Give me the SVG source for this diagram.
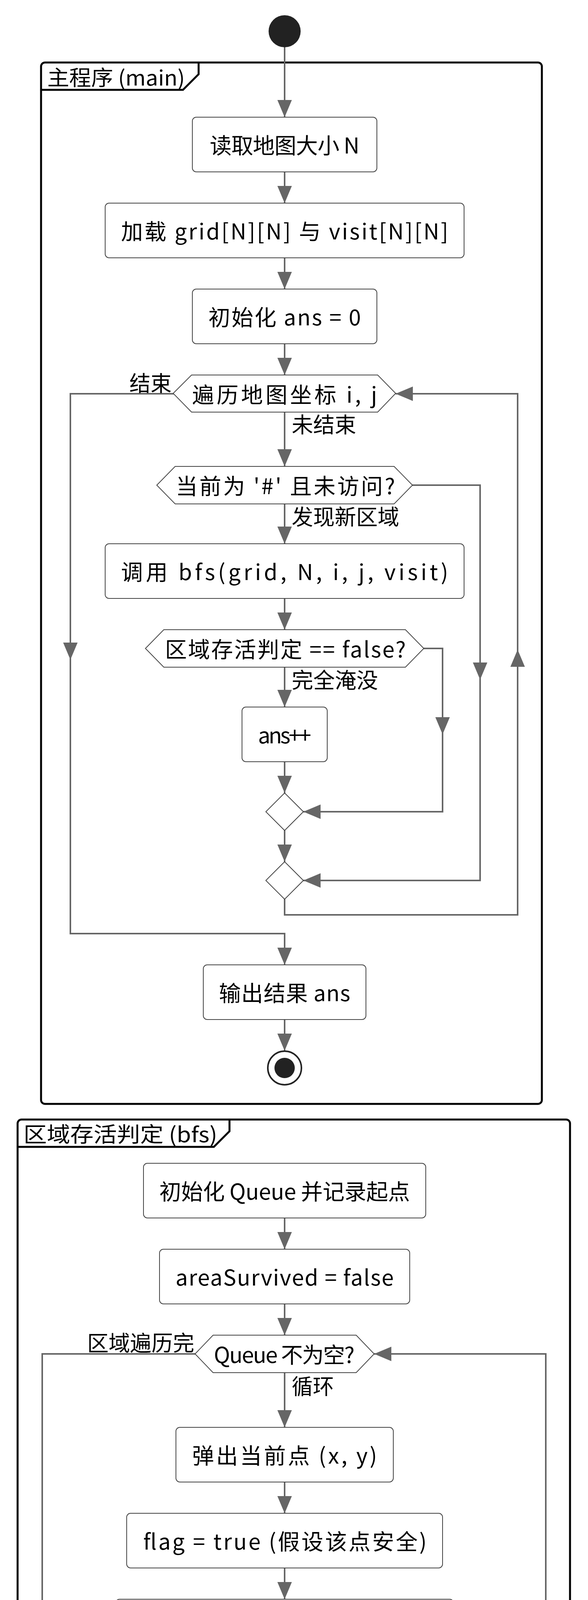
<svg xmlns="http://www.w3.org/2000/svg" width="1504" height="6040" viewBox="0 0 1504 6040">
<style>
.bg{fill:#fff}
.box{fill:#fff;stroke:#444;stroke-width:2}
.ln{fill:none;stroke:#666;stroke-width:4}
.ah{fill:#666}
.fr{fill:none;stroke:#000;stroke-width:5}
.t{font-family:"Noto Sans CJK SC","Noto Sans",sans-serif;font-size:56px;fill:#000}
.c{text-anchor:middle}
.lb{font-family:"Noto Sans CJK SC","Noto Sans",sans-serif;font-size:55px;fill:#000}
.ft{font-family:"Noto Sans CJK SC","Noto Sans",sans-serif;font-size:54px;fill:#000}
.wm{font-family:"Liberation Sans",Arial,sans-serif;font-size:30px;fill:#c8c8c8}
</style>
<defs>
<path id="ah" class="ah" d="M0,0 L-18.5,-44 L18.5,-44 Z"/>
</defs>
<rect class="bg" x="0" y="0" width="1504" height="6040"/>

<!-- frames -->
<g id="frame-main">
<rect class="fr" x="105" y="160" width="1281" height="2666" rx="10"/>
<path class="fr" d="M105,230 L468,230 L508,190 L508,160"/>
<text class="ft" x="121" y="219" textLength="352" lengthAdjust="spacingAndGlyphs">主程序 (main)</text>
</g>
<g id="frame-bfs">
<rect class="fr" x="45" y="2866" width="1413" height="3128" rx="10"/>
<path class="fr" d="M45,2936 L547,2936 L587,2896 L587,2866"/>
<text class="ft" x="60" y="2924" textLength="496" lengthAdjust="spacingAndGlyphs">区域存活判定 (bfs)</text>
</g>

<!-- connectors -->
<g id="connectors">
<path class="ln" d="M728,120 V300"/>
<path class="ln" d="M728,440 V520"/>
<path class="ln" d="M728,660 V740"/>
<path class="ln" d="M728,880 V960"/>
<path class="ln" d="M728,1056 V1194"/>
<path class="ln" d="M728,1290 V1392"/>
<path class="ln" d="M728,1532 V1612"/>
<path class="ln" d="M728,1708 V1810"/>
<path class="ln" d="M728,1950 V2030"/>
<path class="ln" d="M1084,1660 H1132 V2078 H776"/>
<path class="ln" d="M728,2126 V2206"/>
<path class="ln" d="M1055,1242 H1228 V2254 H776"/>
<path class="ln" d="M728,2302 V2342 H1324 V1008 H1012"/>
<path class="ln" d="M444,1008 H180 V2390 H728 V2470"/>
<path class="ln" d="M728,2610 V2690"/>

<path class="ln" d="M728,3118 V3198"/>
<path class="ln" d="M728,3338 V3418"/>
<path class="ln" d="M728,3514 V3654"/>
<path class="ln" d="M728,3794 V3874"/>
<path class="ln" d="M728,4014 V4094"/>
<path class="ln" d="M728,4234 V4314"/>
<path class="ln" d="M728,4410 V4510"/>
<path class="ln" d="M728,4650 V4730"/>
<path class="ln" d="M1139,4362 H1189 V4778 H776"/>
<path class="ln" d="M728,4826 V4906"/>
<path class="ln" d="M728,5002 V5104"/>
<path class="ln" d="M728,5244 V5324"/>
<path class="ln" d="M957,4954 H1312 V5372 H776"/>
<path class="ln" d="M728,5420 V5500"/>
<path class="ln" d="M728,5640 V5680 H1396 V3466 H957"/>
<path class="ln" d="M499,3466 H108 V5728 H728 V5808"/>

<!-- arrowheads -->
<use href="#ah" transform="translate(728,300)"/>
<use href="#ah" transform="translate(728,520)"/>
<use href="#ah" transform="translate(728,740)"/>
<use href="#ah" transform="translate(728,960)"/>
<use href="#ah" transform="translate(728,1194)"/>
<use href="#ah" transform="translate(728,1392)"/>
<use href="#ah" transform="translate(728,1612)"/>
<use href="#ah" transform="translate(728,1810)"/>
<use href="#ah" transform="translate(728,2030)"/>
<use href="#ah" transform="translate(728,2206)"/>
<use href="#ah" transform="translate(728,2470)"/>
<use href="#ah" transform="translate(728,2690)"/>
<use href="#ah" transform="translate(180,1689)"/>
<use href="#ah" transform="translate(1228,1740)"/>
<use href="#ah" transform="translate(1132,1880)"/>
<use href="#ah" transform="translate(1324,1663) rotate(180)"/>
<use href="#ah" transform="translate(1012,1008) rotate(90)"/>
<use href="#ah" transform="translate(776,2078) rotate(90)"/>
<use href="#ah" transform="translate(776,2254) rotate(90)"/>

<use href="#ah" transform="translate(728,3198)"/>
<use href="#ah" transform="translate(728,3418)"/>
<use href="#ah" transform="translate(728,3654)"/>
<use href="#ah" transform="translate(728,3874)"/>
<use href="#ah" transform="translate(728,4094)"/>
<use href="#ah" transform="translate(728,4314)"/>
<use href="#ah" transform="translate(728,4510)"/>
<use href="#ah" transform="translate(728,4730)"/>
<use href="#ah" transform="translate(728,4906)"/>
<use href="#ah" transform="translate(728,5104)"/>
<use href="#ah" transform="translate(728,5324)"/>
<use href="#ah" transform="translate(728,5500)"/>
<use href="#ah" transform="translate(728,5808)"/>
<use href="#ah" transform="translate(108,4585)"/>
<use href="#ah" transform="translate(1189,4582)"/>
<use href="#ah" transform="translate(1312,5177)"/>
<use href="#ah" transform="translate(1396,4560) rotate(180)"/>
<use href="#ah" transform="translate(957,3466) rotate(90)"/>
<use href="#ah" transform="translate(776,4778) rotate(90)"/>
<use href="#ah" transform="translate(776,5372) rotate(90)"/>

<!-- edge labels -->
<text class="lb" x="331" y="1001" textLength="108" lengthAdjust="spacingAndGlyphs">结束</text>
<text class="lb" x="746" y="1107" textLength="165" lengthAdjust="spacingAndGlyphs">未结束</text>
<text class="lb" x="746" y="1343" textLength="275" lengthAdjust="spacingAndGlyphs">发现新区域</text>
<text class="lb" x="746" y="1761" textLength="221" lengthAdjust="spacingAndGlyphs">完全淹没</text>
<text class="lb" x="223" y="3458" textLength="274" lengthAdjust="spacingAndGlyphs">区域遍历完</text>
<text class="lb" x="746" y="3569" textLength="108" lengthAdjust="spacingAndGlyphs">循环</text>
<text class="lb" x="746" y="4461">是</text>
<text class="lb" x="746" y="5057" textLength="330" lengthAdjust="spacingAndGlyphs">受保护的格子</text>
</g>

<!-- main nodes -->
<g id="start"><circle cx="728" cy="80" r="41" fill="#222"/></g>
<g id="n-read">
<rect class="box" x="492" y="300" width="472" height="140" rx="10"/>
<text class="t c" x="728" y="393" textLength="383" lengthAdjust="spacing">读取地图大小 N</text>
</g>
<g id="n-load">
<rect class="box" x="269" y="520" width="918" height="140" rx="10"/>
<text class="t c" x="728" y="613" textLength="837" lengthAdjust="spacing">加载 grid[N][N] 与 visit[N][N]</text>
</g>
<g id="n-init">
<rect class="box" x="492" y="740" width="472" height="140" rx="10"/>
<text class="t c" x="728" y="833" textLength="390" lengthAdjust="spacing">初始化 ans = 0</text>
</g>
<g id="n-loop">
<polygon class="box" points="443,1007 490,960 966,960 1012,1007 966,1055 490,1055"/>
<text class="t c" x="728" y="1031" textLength="473" lengthAdjust="spacing">遍历地图坐标 i, j</text>
</g>
<g id="n-check">
<polygon class="box" points="401,1242 448,1194 1008,1194 1055,1242 1008,1290 448,1290"/>
<text class="t c" x="730" y="1265" textLength="561" lengthAdjust="spacing">当前为 '#' 且未访问?</text>
</g>
<g id="n-callbfs">
<rect class="box" x="269" y="1392" width="918" height="140" rx="10"/>
<text class="t c" x="728" y="1485" textLength="837" lengthAdjust="spacing">调用 bfs(grid, N, i, j, visit)</text>
</g>
<g id="n-survive">
<polygon class="box" points="372,1660 419,1612 1037,1612 1084,1660 1037,1708 419,1708"/>
<text class="t c" x="730" y="1683" textLength="616" lengthAdjust="spacing">区域存活判定 == false?</text>
</g>
<g id="n-inc">
<rect class="box" x="619" y="1810" width="218" height="140" rx="10"/>
<text class="t c" x="728" y="1903" textLength="136" lengthAdjust="spacing">ans++</text>
</g>
<g id="n-merge1"><polygon class="box" points="728,2030 776,2078 728,2126 680,2078"/></g>
<g id="n-merge2"><polygon class="box" points="728,2206 776,2254 728,2302 680,2254"/></g>
<g id="n-output">
<rect class="box" x="520" y="2470" width="416" height="140" rx="10"/>
<text class="t c" x="728" y="2563" textLength="336" lengthAdjust="spacing">输出结果 ans</text>
</g>
<g id="end">
<circle cx="728" cy="2734" r="43" fill="#fff" stroke="#222" stroke-width="4"/>
<circle cx="728" cy="2734" r="26" fill="#222"/>
</g>

<!-- bfs nodes -->
<g id="b-init">
<rect class="box" x="367" y="2978" width="722" height="140" rx="10"/>
<text class="t c" x="728" y="3071" textLength="641" lengthAdjust="spacing">初始化 Queue 并记录起点</text>
</g>
<g id="b-flag0">
<rect class="box" x="408" y="3198" width="640" height="140" rx="10"/>
<text class="t c" x="728" y="3291" textLength="558" lengthAdjust="spacing">areaSurvived = false</text>
</g>
<g id="b-while">
<polygon class="box" points="499,3466 545,3418 911,3418 957,3466 911,3514 545,3514"/>
<text class="t c" x="727" y="3489" textLength="360" lengthAdjust="spacing">Queue 不为空?</text>
</g>
<g id="b-pop">
<rect class="box" x="450" y="3654" width="556" height="140" rx="10"/>
<text class="t c" x="728" y="3747" textLength="473" lengthAdjust="spacing">弹出当前点 (x, y)</text>
</g>
<g id="b-flag">
<rect class="box" x="324" y="3874" width="808" height="140" rx="10"/>
<text class="t c" x="729" y="3967" textLength="725" lengthAdjust="spacing">flag = true (假设该点安全)</text>
</g>
<g id="b-neigh">
<rect class="box" x="296" y="4094" width="864" height="140" rx="10"/>
<text class="t c" x="727" y="4187" textLength="782" lengthAdjust="spacing">检查 上、下、左、右 四个邻居</text>
</g>
<g id="b-cond">
<polygon class="box" points="317,4362 363,4314 1093,4314 1139,4362 1093,4410 363,4410"/>
<text class="t c" x="728" y="4385" textLength="722" lengthAdjust="spacing">任一邻居越界 或 为洪水 '.'</text>
</g>
<g id="b-flood">
<rect class="box" x="310" y="4510" width="836" height="140" rx="10"/>
<text class="t c" x="727" y="4603" textLength="753" lengthAdjust="spacing">该点会被淹没 (flag = false)</text>
</g>
<g id="b-merge1"><polygon class="box" points="728,4730 776,4778 728,4826 680,4778"/></g>
<g id="b-iftrue">
<polygon class="box" points="499,4954 545,4906 911,4906 957,4954 911,5002 545,5002"/>
<text class="t c" x="728" y="4977" textLength="363" lengthAdjust="spacing">flag == true?</text>
</g>
<g id="b-mark">
<rect class="box" x="184" y="5104" width="1087" height="140" rx="10"/>
<text class="t c" x="727" y="5197" textLength="1004" lengthAdjust="spacing">标记该区域存活 (areaSurvived = true)</text>
</g>
<g id="b-merge2"><polygon class="box" points="728,5324 776,5372 728,5420 680,5372"/></g>
<g id="b-push">
<rect class="box" x="282" y="5500" width="891" height="140" rx="10"/>
<text class="t c" x="729" y="5593" textLength="810" lengthAdjust="spacing">将相邻未访问的 '#' 加入 Queue</text>
</g>
<g id="b-return">
<rect class="box" x="450" y="5808" width="556" height="140" rx="10"/>
<text class="t c" x="728" y="5901" textLength="473" lengthAdjust="spacing">返回 areaSurvived</text>
</g>

<text class="wm" x="1213" y="6024" textLength="283" lengthAdjust="spacingAndGlyphs">CSDN @CodeEdge_Xu</text>
</svg>
